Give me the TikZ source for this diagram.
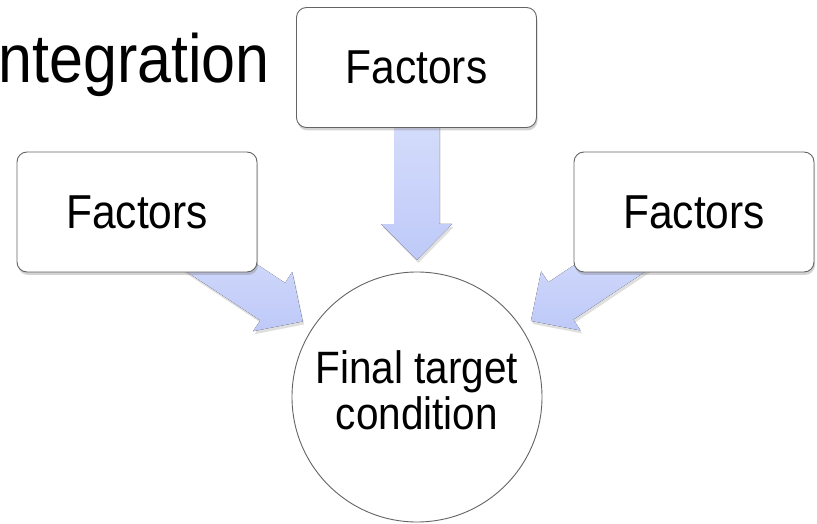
\documentclass[tikz,border=0pt]{standalone}
\usepackage{fontspec}
\setmainfont{Liberation Sans}
\usepackage{graphicx}
\usetikzlibrary{shapes,positioning,calc,shadows,backgrounds}

\definecolor{arrowtop}{RGB}{222,228,252}
\definecolor{arrowbot}{RGB}{190,201,248}
\definecolor{edgegray}{RGB}{100,100,100}
\newcommand\stretchtext[1]{\scalebox{1}[1.12]{#1}}

\begin{document}
\begin{tikzpicture}[x=1pt, y=1pt,
    factor/.style={draw=edgegray, fill=white, rounded corners=10pt, minimum width=240pt, minimum height=120pt, line width=0.9pt,
      drop shadow={shadow xshift=1pt, shadow yshift=-3pt, opacity=0.35}, font=\fontsize{42.5}{42.5}\selectfont},
    target/.style={circle, draw=edgegray, fill=white, minimum size=250pt, inner sep=0pt, line width=0.9pt,
      font=\fontsize{40.5}{40}\selectfont},
    blockarrow/.style={top color=arrowtop, bottom color=arrowbot, draw=none,
      drop shadow={shadow xshift=1.5pt, shadow yshift=-3pt, opacity=0.25}}]
    \useasboundingbox (0,0) rectangle (817,523);
    \clip (0,0) rectangle (817,523);

    % Title
    \node[anchor=base east, inner sep=0pt, font=\fontsize{61}{61}\selectfont] (title) at (270,440) {\stretchtext{ntegration}};

    % Factors and target
    \node[factor] (tf) at (416.5,455.5) {\stretchtext{Factors}};
    \node[factor] (lf) at (137,311) {\stretchtext{Factors}};
    \node[factor] (rf) at (694,311) {\stretchtext{Factors}};
    \node[target] (final) at (417,126) {\stretchtext{\begin{tabular}{@{}c@{}}Final target\\condition\end{tabular}}};

    % Arrows
    \begin{scope}[on background layer]
    \foreach \f in {lf,tf,rf}{
      \path let \p1=($(final.center)-(\f.center)$) in
        \pgfextra{\pgfmathsetmacro\arrang{atan2(\y1,\x1)}%
          \pgfmathsetmacro\arrlen{veclen(\x1,\y1)-137}%
          \global\let\arrang\arrang\global\let\arrlen\arrlen};
      \fill[blockarrow, shift={(\f.center)}, rotate=\arrang]
        (0,22.5) -- (\arrlen-36,22.5) -- (\arrlen-36,35.5) -- (\arrlen,0)
        -- (\arrlen-36,-35.5) -- (\arrlen-36,-22.5) -- (0,-22.5) -- cycle;
    }
    \end{scope}
\end{tikzpicture}
\end{document}
